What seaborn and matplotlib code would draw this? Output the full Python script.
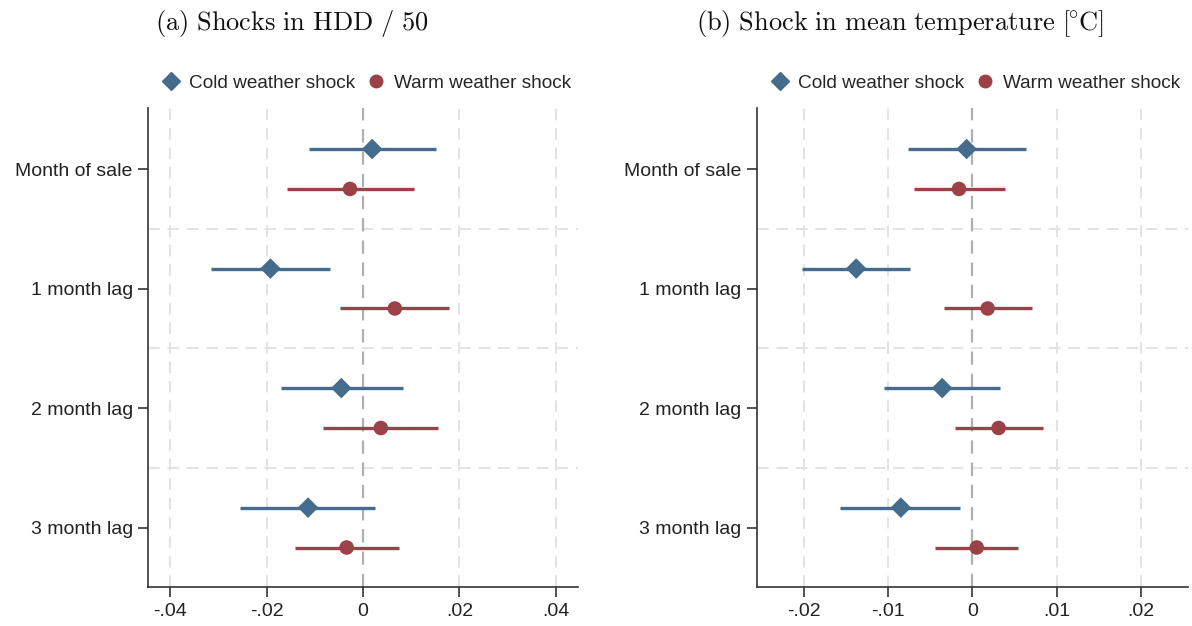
import numpy as np
import pandas as pd
import matplotlib
matplotlib.use("Agg")
import matplotlib.pyplot as plt
import seaborn as sns
from matplotlib.lines import Line2D

sns.set_theme(style="white")
plt.rcParams['font.family'] = ['Liberation Sans', 'DejaVu Sans']
plt.rcParams['mathtext.fontset'] = 'cm'

# ---------------------------------------------------------
# Dados (coeficientes e intervalos de confiança)
# ---------------------------------------------------------
lags = ['Month of sale', '1 month lag', '2 month lag', '3 month lag']

# (a) Choques em HDD / 50
hdd_cold = [0.0019, -0.0192, -0.0045, -0.0114]
hdd_cold_lo = [-0.0113, -0.0315, -0.0171, -0.0255]
hdd_cold_hi = [0.0152, -0.0069, 0.0082, 0.0025]
hdd_warm = [-0.0027, 0.0066, 0.0037, -0.0034]
hdd_warm_lo = [-0.0157, -0.0047, -0.0082, -0.0142]
hdd_warm_hi = [0.0105, 0.0178, 0.0156, 0.0075]

# (b) Choque na temperatura média
tmp_cold = [-0.0007, -0.0138, -0.0036, -0.0085]
tmp_cold_lo = [-0.0076, -0.0202, -0.0105, -0.0157]
tmp_cold_hi = [0.0063, -0.0074, 0.0033, -0.0015]
tmp_warm = [-0.0016, 0.0018, 0.0031, 0.0005]
tmp_warm_lo = [-0.0069, -0.0034, -0.0021, -0.0044]
tmp_warm_hi = [0.0038, 0.0071, 0.0084, 0.0054]

cor_frio = '#456c8c'
cor_quente = '#9b4147'
desloc = 0.167


def monta_df(cold, cold_lo, cold_hi, warm, warm_lo, warm_hi):
    frio = pd.DataFrame({'lag': lags, 'coef': cold, 'lo': cold_lo, 'hi': cold_hi,
                         'tipo': 'Cold weather shock',
                         'y': np.arange(len(lags)) - desloc})
    quente = pd.DataFrame({'lag': lags, 'coef': warm, 'lo': warm_lo, 'hi': warm_hi,
                           'tipo': 'Warm weather shock',
                           'y': np.arange(len(lags)) + desloc})
    return pd.concat([frio, quente], ignore_index=True)


def fmt(v):
    if abs(v) < 1e-9:
        return '0'
    s = f'{v:.2f}'.replace('0.', '.')
    return s


def painel(ax, df, ticks, lim):
    for x in ticks:
        if x == 0:
            ax.axvline(0, color='#b0b0b0', lw=1.6, ls=(0, (6, 4)), zorder=1)
        else:
            ax.axvline(x, color='#e3e3e3', lw=1.4, ls=(0, (6, 4)), zorder=0)
    for yy in [0.5, 1.5, 2.5]:
        ax.axhline(yy, color='#e3e3e3', lw=1.4, ls=(0, (6, 4)), zorder=0)

    cores = {'Cold weather shock': cor_frio, 'Warm weather shock': cor_quente}
    for tipo, g in df.groupby('tipo'):
        ax.hlines(g['y'], g['lo'], g['hi'], color=cores[tipo], lw=2.4, zorder=2)
    sns.scatterplot(data=df, x='coef', y='y', hue='tipo', style='tipo',
                    markers={'Cold weather shock': 'D', 'Warm weather shock': 'o'},
                    palette=cores, s=110, linewidth=0, legend=False, ax=ax, zorder=3)

    ax.set_xlim(-lim, lim)
    ax.set_ylim(3.5, -0.51)
    ax.set_yticks(range(len(lags)))
    ax.set_yticklabels(lags)
    ax.set_xticks(ticks)
    ax.set_xticklabels([fmt(t) for t in ticks])
    ax.set_xlabel('')
    ax.set_ylabel('')
    ax.tick_params(axis='both', which='both', direction='out', length=7, width=1.2,
                   color='#333333', labelsize=14, labelcolor='#222222', pad=4,
                   left=True, bottom=True)
    for lado in ['top', 'right']:
        ax.spines[lado].set_visible(False)
    for lado in ['left', 'bottom']:
        ax.spines[lado].set_color('#333333')
        ax.spines[lado].set_linewidth(1.2)

    handles = [Line2D([], [], marker='D', color=cor_frio, ls='none', markersize=9),
               Line2D([], [], marker='o', color=cor_quente, ls='none', markersize=9)]
    ax.legend(handles, ['Cold weather shock', 'Warm weather shock'], ncol=2,
              loc='center', bbox_to_anchor=(0.505, 1.052), frameon=False,
              fontsize=13.7, handletextpad=0.35, columnspacing=0.5, handlelength=1.2)


fig = plt.figure(figsize=(11.92, 6.26), dpi=100)
ax1 = fig.add_axes([0.1242, 0.0618, 0.3607, 0.7656])
ax2 = fig.add_axes([0.6348, 0.0618, 0.3621, 0.7656])

df_hdd = monta_df(hdd_cold, hdd_cold_lo, hdd_cold_hi, hdd_warm, hdd_warm_lo, hdd_warm_hi)
df_tmp = monta_df(tmp_cold, tmp_cold_lo, tmp_cold_hi, tmp_warm, tmp_warm_lo, tmp_warm_hi)

painel(ax1, df_hdd, [-0.04, -0.02, 0, 0.02, 0.04], 0.0446)
painel(ax2, df_tmp, [-0.02, -0.01, 0, 0.01, 0.02], 0.0256)

fig.text(0.2445, 0.962, r'$\mathrm{(a)\ Shocks\ in\ HDD\ /\ 50}$', ha='center', va='center',
         fontsize=19, color='#111111')
fig.text(0.755, 0.962, r'$\mathrm{(b)\ Shock\ in\ mean\ temperature\ [^{\!\!\circ}\!C]}$',
         ha='center', va='center', fontsize=19, color='#111111')

plt.savefig('out.png', dpi=100)
